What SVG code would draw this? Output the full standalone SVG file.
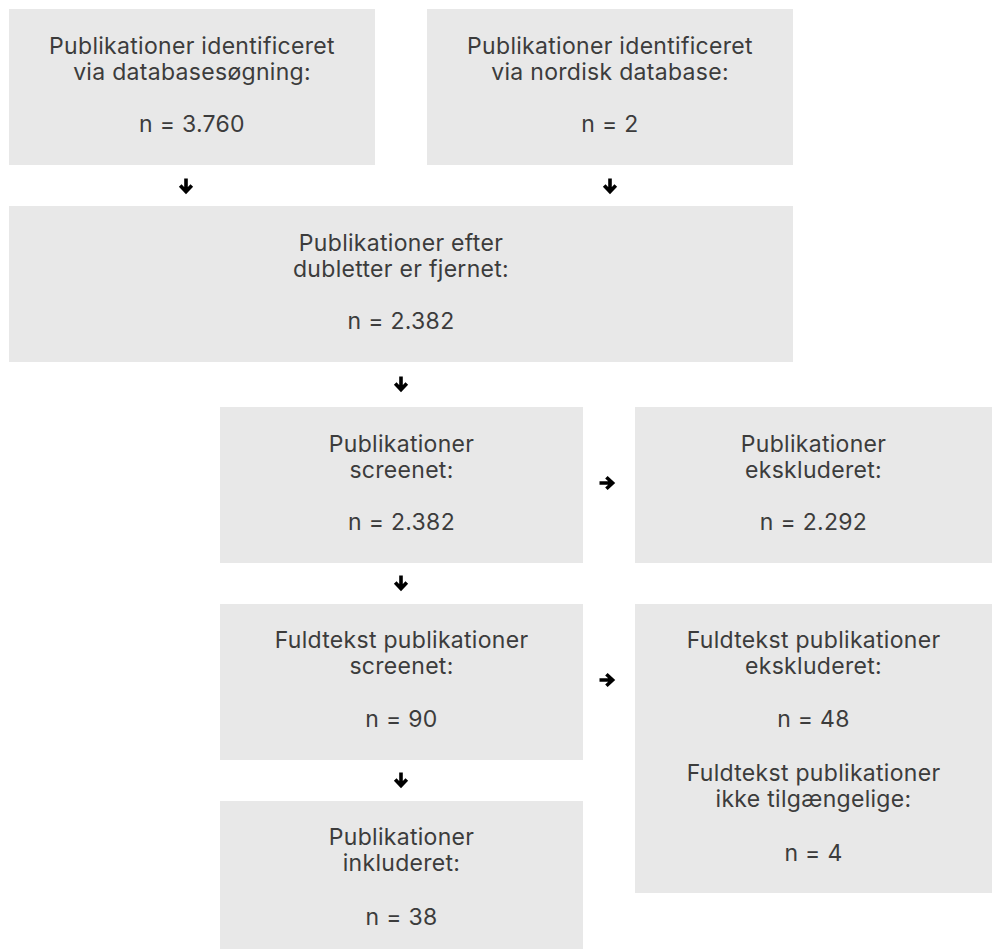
<svg xmlns="http://www.w3.org/2000/svg" width="992" height="949" viewBox="0 0 992 949">
<style>
.box{fill:#e8e8e8;}
text{font-family:Inter,"Open Sans","Liberation Sans",sans-serif;font-size:23px;letter-spacing:0.3px;fill:#3c3c3c;text-anchor:middle;}
.arr{fill:none;stroke:#000;stroke-width:3.6;stroke-linejoin:miter;}
</style>
<defs>
<g id="down"><path class="arr" d="M0,-7.5 V5 M-5.8,-0.6 L0,5.6 L5.8,-0.6"/></g>
</defs>
<rect width="992" height="949" fill="#fff"/>
<g id="n1"><rect class="box" x="9" y="9" width="366" height="156"/>
<text x="192" y="54">Publikationer identificeret</text><text x="192" y="80">via databasesøgning:</text><text x="192" y="132">n = 3.760</text></g>
<g id="n2"><rect class="box" x="427" y="9" width="366" height="156"/>
<text x="610" y="54">Publikationer identificeret</text><text x="610" y="80">via nordisk database:</text><text x="610" y="132">n = 2</text></g>
<g id="n3"><rect class="box" x="9" y="206" width="784" height="156"/>
<text x="401" y="251">Publikationer efter</text><text x="401" y="277">dubletter er fjernet:</text><text x="401" y="329">n = 2.382</text></g>
<g id="n4"><rect class="box" x="220" y="407" width="363" height="156"/>
<text x="401.5" y="452">Publikationer</text><text x="401.5" y="478">screenet:</text><text x="401.5" y="530">n = 2.382</text></g>
<g id="n5"><rect class="box" x="635" y="407" width="357" height="156"/>
<text x="813.5" y="452">Publikationer</text><text x="813.5" y="478">ekskluderet:</text><text x="813.5" y="530">n = 2.292</text></g>
<g id="n6"><rect class="box" x="220" y="604" width="363" height="156"/>
<text x="401.5" y="648">Fuldtekst publikationer</text><text x="401.5" y="674">screenet:</text><text x="401.5" y="727">n = 90</text></g>
<g id="n7"><rect class="box" x="635" y="604" width="357" height="289"/>
<text x="813.5" y="648">Fuldtekst publikationer</text><text x="813.5" y="674">ekskluderet:</text><text x="813.5" y="727">n = 48</text>
<text x="813.5" y="781">Fuldtekst publikationer</text><text x="813.5" y="807">ikke tilgængelige:</text><text x="813.5" y="861">n = 4</text></g>
<g id="n8"><rect class="box" x="220" y="801" width="363" height="148"/>
<text x="401.5" y="845">Publikationer</text><text x="401.5" y="871">inkluderet:</text><text x="401.5" y="925">n = 38</text></g>
<g id="connectors">
<use href="#down" x="186" y="186"/>
<use href="#down" x="610" y="186"/>
<use href="#down" x="401" y="384"/>
<use href="#down" x="401" y="583"/>
<use href="#down" x="401" y="780"/>
<use href="#down" transform="translate(607,483) rotate(-90)"/>
<use href="#down" transform="translate(607,680) rotate(-90)"/>
</g>
</svg>
